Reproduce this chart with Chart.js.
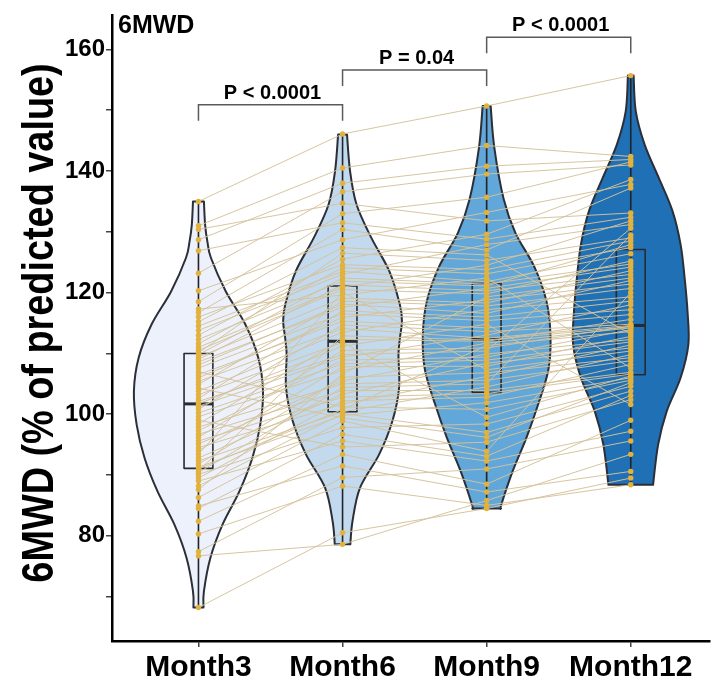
<!DOCTYPE html>
<html>
<head>
<meta charset="utf-8">
<script src="https://cdn.jsdelivr.net/npm/chart.js@4.4.1/dist/chart.umd.min.js"></script>
<style>
  html, body { margin: 0; padding: 0; background: #fff; }
  #wrap { width: 714px; height: 684px; }
</style>
</head>
<body>
<div id="wrap"><canvas id="violin" width="714" height="684"></canvas></div>
<script>
var months = ['Month3', 'Month6', 'Month9', 'Month12'];
var yTicks = [70, 80, 90, 100, 110, 120, 130, 140, 150, 160];

// one value per patient, same patient order in every month
var m3 = [68.2, 76.7, 77.4, 80.3, 82.4, 84.5, 84.9, 86.3, 87.6, 88.2, 89.0, 89.5, 90.1, 90.4, 90.7, 91.0, 91.3, 91.8,
  92.3, 92.8, 93.4, 94.0, 94.5, 95.1, 95.6, 96.2, 96.7, 97.3, 97.9, 98.4, 99.0, 99.6, 100.2, 100.8, 101.3, 101.7,
  102.1, 102.6, 103.2, 103.8, 104.3, 104.9, 105.4, 106.0, 106.5, 107.0, 107.6, 108.1, 108.6, 109.0, 109.4, 109.8, 110.1, 110.5,
  111.0, 111.6, 112.3, 113.0, 113.8, 114.5, 115.2, 116.0, 116.7, 117.3, 118.5, 120.3, 123.2, 126.9, 128.7, 130.4, 131.0, 135.0];
var m6 = [80.5, 78.6, 89.6, 88.2, 93.4, 96.7, 91.5, 98.9, 106.6, 100.1, 95.6, 102.2, 97.8, 104.4, 112.9, 100.8,
  99.8, 106.1, 100.4, 103.3, 120.1, 107.8, 101.7, 105.5, 102.8, 110.5, 103.9, 108.9, 105.0, 112.3, 94.6, 107.2,
  108.3, 114.7, 109.4, 111.2, 109.8, 117.0, 111.8, 113.5, 99.4, 118.6, 114.1, 115.9, 115.3, 101.2, 116.5, 118.1,
  117.6, 121.3, 119.1, 122.4, 126.5, 120.5, 120.9, 124.1, 121.9, 125.5, 123.0, 123.5, 127.4, 124.6, 130.4, 119.6,
  133.0, 128.7, 136.6, 131.5, 138.0, 134.7, 140.5, 146.1];
var m9 = [84.5, 85.8, 91.0, 85.0, 88.5, 93.1, 87.2, 93.9, 119.3, 97.0, 92.3, 102.8, 98.4, 105.0, 112.2, 111.3,
  101.9, 106.8, 104.5, 108.4, 107.3, 107.9, 106.2, 109.9, 103.4, 110.9, 103.9, 109.4, 105.6, 112.0, 95.4, 111.7,
  108.9, 113.6, 113.0, 114.8, 110.4, 116.0, 99.5, 117.2, 96.2, 117.8, 112.5, 118.8, 114.2, 100.8, 115.4, 116.6,
  120.7, 120.3, 118.3, 121.4, 125.3, 119.8, 124.5, 123.1, 121.1, 129.6, 127.9, 121.8, 126.2, 123.8, 127.0, 122.4,
  135.7, 133.2, 139.5, 128.8, 140.8, 131.8, 144.2, 150.7];
var m12 = [89.5, 93.4, 95.6, 88.4, 99.0, 103.1, 90.6, 120.0, 122.4, 103.8, 97.2, 108.2, 104.6, 129.5, 114.4, 113.6,
  106.0, 109.3, 109.8, 110.9, 110.4, 112.8, 111.4, 112.3, 106.6, 114.5, 106.9, 113.9, 108.8, 115.6, 102.4, 114.2,
  111.9, 114.8, 118.0, 101.6, 130.6, 118.6, 106.3, 119.3, 105.2, 120.7, 114.6, 121.4, 116.4, 105.6, 117.2, 122.0,
  124.2, 123.0, 123.6, 124.7, 129.0, 125.2, 131.8, 127.4, 127.9, 138.6, 131.2, 126.4, 113.2, 128.5, 137.2, 107.6,
  141.5, 137.8, 141.0, 132.4, 141.9, 133.1, 142.4, 155.7];

// violin outlines: [value, half width in category units], top to bottom
var violin3 = [[135.0, 0.038], [131.2, 0.046], [128.4, 0.062], [125.7, 0.087], [120.2, 0.19], [114.8, 0.325],
  [109.3, 0.415], [103.8, 0.448], [98.3, 0.429], [92.8, 0.374], [87.3, 0.284], [81.8, 0.166], [76.4, 0.083],
  [70.9, 0.038], [68.2, 0.035]];
var violin6 = [[146.0, 0.031], [140.0, 0.052], [134.5, 0.097], [129.0, 0.2], [123.5, 0.325], [118.0, 0.398],
  [115.3, 0.412], [112.5, 0.398], [109.8, 0.388], [104.3, 0.392], [98.9, 0.346], [93.4, 0.254], [87.9, 0.121],
  [82.4, 0.069], [78.6, 0.054]];
var violin9 = [[150.7, 0.028], [143.9, 0.053], [135.4, 0.118], [129.8, 0.2], [124.2, 0.332], [118.6, 0.415],
  [113.0, 0.443], [107.4, 0.429], [101.8, 0.36], [96.2, 0.277], [90.6, 0.18], [85.0, 0.1], [84.5, 0.1]];
var violin12 = [[155.7, 0.02], [149.8, 0.035], [144.3, 0.097], [138.9, 0.194], [133.4, 0.29], [127.9, 0.346],
  [122.4, 0.374], [116.9, 0.394], [111.5, 0.4], [106.0, 0.346], [100.5, 0.25], [95.0, 0.19], [88.4, 0.155]];

// box plot: q1, median, q3
var q1 = [91.1, 100.4, 103.6, 106.5];
var med = [101.7, 112.0, 112.3, 114.6];
var q3 = [110.0, 121.1, 121.5, 127.1];

var pPairs = [[0, 1], [1, 2], [2, 3]];
var pLevels = [150.9, 156.6, 162.0];
var pLabels = ['P < 0.0001', 'P = 0.04', 'P < 0.0001'];

var violins = [violin3, violin6, violin9, violin12];
var series = [m3, m6, m9, m12];
var fills = ['#edf1fb', '#c3daee', '#62a7da', '#2070b6'];
var font = '"Liberation Sans", Arial, Helvetica, sans-serif';

var pairLines = [];
var dots = [];
for (var i = 0; i < m3.length; i++) {
  for (var k = 0; k < 4; k++) {
    pairLines.push({ x: k, y: series[k][i] });
    dots.push({ x: k, y: series[k][i] });
  }
  pairLines.push({ x: 3.5, y: null });
}

function smooth(ctx, pts) {
  for (var i = 0; i < pts.length - 1; i++) {
    var p0 = pts[i - 1] || pts[i], p1 = pts[i], p2 = pts[i + 1], p3 = pts[i + 2] || p2;
    ctx.bezierCurveTo(p1.x + (p2.x - p0.x) / 6, p1.y + (p2.y - p0.y) / 6,
      p2.x - (p3.x - p1.x) / 6, p2.y - (p3.y - p1.y) / 6, p2.x, p2.y);
  }
}

var violinPlugin = {
  id: 'violins',
  beforeDatasetsDraw: function(chart) {
    var ctx = chart.ctx, xs = chart.scales.x, ys = chart.scales.y;
    ctx.save();
    violins.forEach(function(v, k) {
      var right = v.map(function(p) { return { x: xs.getPixelForValue(k + p[1]), y: ys.getPixelForValue(p[0]) }; });
      var left = v.map(function(p) { return { x: xs.getPixelForValue(k - p[1]), y: ys.getPixelForValue(p[0]) }; }).reverse();
      ctx.beginPath();
      ctx.moveTo(right[0].x, right[0].y);
      smooth(ctx, right);
      ctx.lineTo(left[0].x, left[0].y);
      smooth(ctx, left);
      ctx.closePath();
      ctx.fillStyle = fills[k];
      ctx.fill();
      ctx.lineWidth = 2;
      ctx.strokeStyle = '#2b2f38';
      ctx.lineJoin = 'round';
      ctx.stroke();

      // whisker through the violin
      var cx = xs.getPixelForValue(k);
      ctx.beginPath();
      ctx.moveTo(cx, ys.getPixelForValue(v[0][0]));
      ctx.lineTo(cx, ys.getPixelForValue(v[v.length - 1][0]));
      ctx.lineWidth = 1.6;
      ctx.strokeStyle = '#1f232b';
      ctx.stroke();

      // box
      var bl = xs.getPixelForValue(k - 0.1), br = xs.getPixelForValue(k + 0.1);
      var bt = ys.getPixelForValue(q3[k]), bb = ys.getPixelForValue(q1[k]);
      ctx.lineWidth = 1.6;
      ctx.strokeStyle = '#262a31';
      ctx.strokeRect(bl, bt, br - bl, bb - bt);
      var my = ys.getPixelForValue(med[k]);
      ctx.beginPath();
      ctx.moveTo(bl, my);
      ctx.lineTo(br, my);
      ctx.lineWidth = 3;
      ctx.stroke();
    });
    ctx.restore();
  },
  afterDraw: function(chart) {
    var ctx = chart.ctx, xs = chart.scales.x, ys = chart.scales.y;
    ctx.save();
    pPairs.forEach(function(pr, j) {
      var x1 = xs.getPixelForValue(pr[0]), x2 = xs.getPixelForValue(pr[1]);
      var y = ys.getPixelForValue(pLevels[j]);
      ctx.beginPath();
      ctx.moveTo(x1, y + 16);
      ctx.lineTo(x1, y);
      ctx.lineTo(x2, y);
      ctx.lineTo(x2, y + 16);
      ctx.lineWidth = 1.5;
      ctx.strokeStyle = '#5a5a5a';
      ctx.stroke();
      ctx.fillStyle = '#000';
      ctx.font = 'bold 20px ' + font;
      ctx.textAlign = 'center';
      ctx.textBaseline = 'alphabetic';
      ctx.fillText(pLabels[j], (x1 + x2) / 2 + 2, y - 6);
    });
    ctx.font = 'bold 25px ' + font;
    ctx.textAlign = 'left';
    ctx.fillText('6MWD', chart.chartArea.left + 6, 33);

    // y axis title, slightly condensed like the original
    ctx.translate(53, 323);
    ctx.rotate(-Math.PI / 2);
    ctx.scale(0.86, 1);
    ctx.font = 'bold 44px ' + font;
    ctx.textAlign = 'center';
    ctx.textBaseline = 'alphabetic';
    ctx.fillText('6MWD (% of predicted value)', 0, 0);
    ctx.restore();
  }
};

var ctx = document.getElementById('violin').getContext('2d');
var config = {
  type: 'scatter',
  data: {
    datasets: [{
      label: 'patients',
      data: pairLines,
      showLine: true,
      spanGaps: false,
      borderColor: 'rgba(212, 194, 155, 0.95)',
      borderWidth: 1,
      pointRadius: 0,
      order: 2
    }, {
      label: 'values',
      data: dots,
      showLine: false,
      pointRadius: 2.7,
      pointBorderWidth: 0,
      pointBackgroundColor: '#e2b23e',
      order: 1
    }]
  },
  options: {
    responsive: false,
    animation: false,
    devicePixelRatio: 1,
    layout: { padding: { top: 14, right: 2, left: 0, bottom: 0 } },
    plugins: { legend: { display: false }, tooltip: { enabled: false } },
    scales: {
      x: {
        type: 'linear',
        min: -0.6,
        max: 3.55,
        afterBuildTicks: function(s) { s.ticks = [0, 1, 2, 3].map(function(v) { return { value: v }; }); },
        afterFit: function(s) { s.height = 43; },
        ticks: {
          autoSkip: false,
          maxRotation: 0,
          padding: 3,
          color: '#000',
          font: { family: font, size: 30, weight: 'bold' },
          callback: function(v) { return months[v]; }
        },
        grid: { drawOnChartArea: false, drawTicks: true, tickLength: 6, color: '#444', lineWidth: 1.5 },
        border: { display: true, color: '#000', width: 2.5 }
      },
      y: {
        min: 62.7,
        max: 165.6,
        afterBuildTicks: function(s) { s.ticks = yTicks.map(function(v) { return { value: v }; }); },
        afterFit: function(s) { s.width = 112; },
        ticks: {
          autoSkip: false,
          padding: 1,
          color: '#000',
          font: { family: font, size: 24, weight: 'bold' },
          callback: function(v) { return v % 20 === 0 ? v : ''; }
        },
        grid: { drawOnChartArea: false, drawTicks: true, tickLength: 6, color: '#444', lineWidth: 1.5 },
        border: { display: true, color: '#000', width: 2.5 }
      }
    }
  },
  plugins: [violinPlugin]
};

var myChart = new Chart(ctx, config);
</script>
</body>
</html>
